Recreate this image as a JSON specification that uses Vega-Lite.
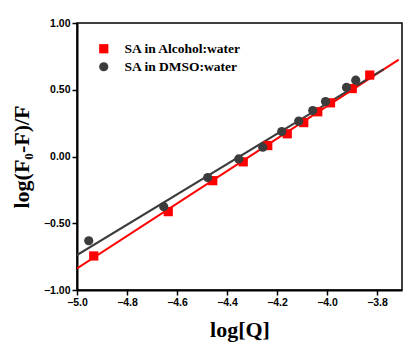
{
  "$schema": "https://vega.github.io/schema/vega-lite/v6.json",
  "autosize": "none",
  "width": 325,
  "height": 267,
  "padding": {"left": 77, "top": 23, "right": 17, "bottom": 61},
  "background": "white",
  "config": {
    "view": {"stroke": "black", "strokeWidth": 1.5},
    "axis": {
      "domainColor": "black", "domainWidth": 2, "tickColor": "black", "tickWidth": 1.5, "tickSize": 5,
      "labelFont": "Liberation Sans", "labelFontWeight": "bold", "labelFontSize": 10.5, "labelColor": "black",
      "labelOverlap": false, "labelFlush": false,
      "titleFont": "Liberation Serif", "titleFontWeight": "bold", "titleFontSize": 22, "titleColor": "black",
      "grid": false
    },
    "legend": {
      "orient": "none", "legendX": 20, "legendY": 19, "padding": 0, "rowPadding": 3,
      "symbolSize": 85, "labelOffset": 14, "symbolStrokeWidth": 0,
      "labelFont": "Liberation Serif, Times New Roman, serif", "labelFontWeight": "bold", "labelFontSize": 13.5, "labelColor": "black"
    }
  },
  "datasets": {
    "pts": [
      {"logQ": -4.933, "y": -0.745, "series": "SA in Alcohol:water"},
      {"logQ": -4.635, "y": -0.413, "series": "SA in Alcohol:water"},
      {"logQ": -4.457, "y": -0.181, "series": "SA in Alcohol:water"},
      {"logQ": -4.335, "y": -0.040, "series": "SA in Alcohol:water"},
      {"logQ": -4.237, "y": 0.082, "series": "SA in Alcohol:water"},
      {"logQ": -4.159, "y": 0.170, "series": "SA in Alcohol:water"},
      {"logQ": -4.093, "y": 0.254, "series": "SA in Alcohol:water"},
      {"logQ": -4.037, "y": 0.335, "series": "SA in Alcohol:water"},
      {"logQ": -3.986, "y": 0.402, "series": "SA in Alcohol:water"},
      {"logQ": -3.899, "y": 0.509, "series": "SA in Alcohol:water"},
      {"logQ": -3.829, "y": 0.610, "series": "SA in Alcohol:water"},
      {"logQ": -4.953, "y": -0.631, "series": "SA in DMSO:water"},
      {"logQ": -4.653, "y": -0.376, "series": "SA in DMSO:water"},
      {"logQ": -4.477, "y": -0.158, "series": "SA in DMSO:water"},
      {"logQ": -4.353, "y": -0.018, "series": "SA in DMSO:water"},
      {"logQ": -4.257, "y": 0.070, "series": "SA in DMSO:water"},
      {"logQ": -4.181, "y": 0.187, "series": "SA in DMSO:water"},
      {"logQ": -4.113, "y": 0.265, "series": "SA in DMSO:water"},
      {"logQ": -4.057, "y": 0.344, "series": "SA in DMSO:water"},
      {"logQ": -4.006, "y": 0.412, "series": "SA in DMSO:water"},
      {"logQ": -3.922, "y": 0.517, "series": "SA in DMSO:water"},
      {"logQ": -3.885, "y": 0.572, "series": "SA in DMSO:water"}
    ],
    "fits": [
      {"logQ": -5.0, "y": -0.838, "series": "SA in Alcohol:water"},
      {"logQ": -3.713, "y": 0.725, "series": "SA in Alcohol:water"},
      {"logQ": -5.0, "y": -0.738, "series": "SA in DMSO:water"},
      {"logQ": -3.773, "y": 0.655, "series": "SA in DMSO:water"}
    ]
  },
  "layer": [
    {
      "data": {"name": "fits"},
      "mark": {"type": "line", "strokeWidth": 2, "clip": true},
      "encoding": {
        "x": {"field": "logQ", "type": "quantitative"},
        "y": {"field": "y", "type": "quantitative"},
        "detail": {"field": "series"},
        "stroke": {"field": "series", "type": "nominal", "scale": {"domain": ["SA in Alcohol:water", "SA in DMSO:water"], "range": ["#ff0000", "#3c3c3c"]}, "legend": null}
      }
    },
    {
      "data": {"name": "pts"},
      "mark": {"type": "point", "filled": true, "opacity": 1, "size": 85},
      "encoding": {
        "x": {"field": "logQ", "type": "quantitative", "title": "log[Q]",
              "scale": {"domain": [-5.0, -3.7], "nice": false, "zero": false},
              "axis": {"values": [-5.0, -4.8, -4.6, -4.4, -4.2, -4.0, -3.8], "format": ".1f", "titlePadding": 12}},
        "y": {"field": "y", "type": "quantitative", "title": "log(F₀-F)/F",
              "scale": {"domain": [-1, 1], "nice": false},
              "axis": {"values": [-1, -0.75, -0.5, -0.25, 0, 0.25, 0.5, 0.75, 1], "format": ".2f", "titlePadding": 10}},
        "fill": {"field": "series", "type": "nominal", "scale": {"domain": ["SA in Alcohol:water", "SA in DMSO:water"], "range": ["#ff0000", "#3c3c3c"]},
                 "legend": {"title": null, "labelFont": "Liberation Serif, Times New Roman, serif"}},
        "shape": {"field": "series", "type": "nominal", "scale": {"domain": ["SA in Alcohol:water", "SA in DMSO:water"], "range": ["square", "circle"]},
                  "legend": {"title": null, "labelFont": "Liberation Serif, Times New Roman, serif"}}
      }
    }
  ],
  "resolve": {"scale": {"stroke": "independent"}}
}
